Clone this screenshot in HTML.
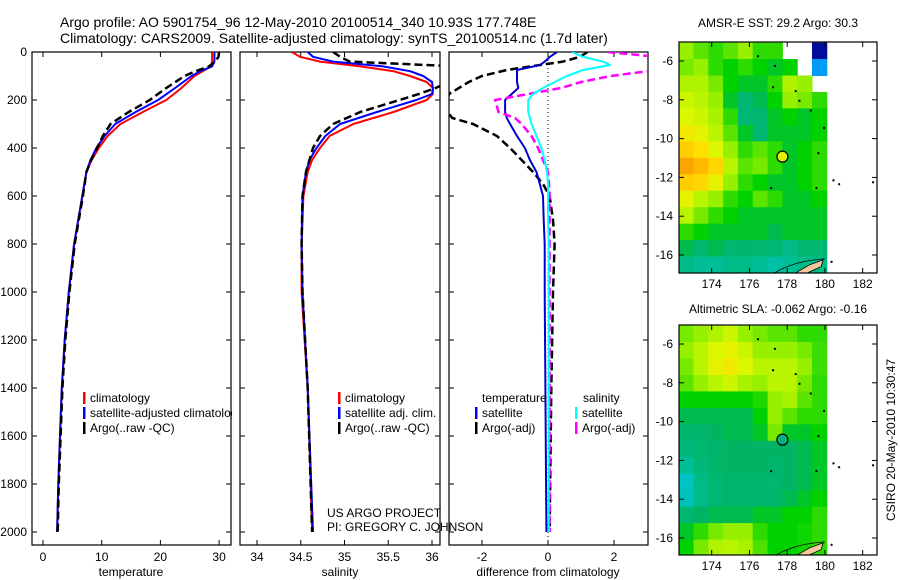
<!DOCTYPE html>
<html><head><meta charset="utf-8"><style>
html,body{margin:0;padding:0;background:#fff;}
svg{display:block;font-family:"Liberation Sans",sans-serif;}
text{fill:#000;}
</style></head><body>
<svg id="fig" width="900" height="580" viewBox="0 0 900 580">
<defs>
<clipPath id="c1"><rect x="32" y="52" width="199" height="493"/></clipPath>
<clipPath id="c2"><rect x="240" y="52" width="200" height="493"/></clipPath>
<clipPath id="c3"><rect x="449" y="52" width="199" height="493"/></clipPath>
<clipPath id="lg1"><rect x="32" y="380" width="200" height="60"/></clipPath>
<clipPath id="m1"><rect x="679" y="42" width="198" height="231"/></clipPath>
<clipPath id="m2"><rect x="679" y="325" width="198" height="230"/></clipPath>
</defs>
<text x="60" y="27" font-size="14">Argo profile: AO 5901754_96 12-May-2010 20100514_340 10.93S 177.748E</text>
<text x="60" y="43" font-size="14">Climatology: CARS2009. Satellite-adjusted climatology: synTS_20100514.nc (1.7d later)</text>
<g id="root"></g>
</svg>
<script>
// ---------- profile data ----------
var tDepth = [0,20,40,60,80,100,150,200,250,300,350,400,450,500,600,800,1000,1200,1400,1600,1800,2000];
var tClim  = [28.8,28.8,28.8,28.6,27.2,25.8,23.6,21.0,17.0,13.2,11.0,9.5,8.3,7.4,6.7,5.3,4.4,3.7,3.2,2.9,2.6,2.4];
var tSat   = [29.2,29.2,29.2,28.8,26.8,25.3,22.5,19.6,15.8,12.3,10.5,9.1,8.1,7.4,6.7,5.3,4.4,3.7,3.2,2.9,2.6,2.4];
var tArgo  = [30.0,29.9,29.3,28.3,26.0,24.1,21.0,18.2,14.6,11.5,10.2,9.2,8.2,7.4,6.8,5.4,4.5,3.8,3.3,3.0,2.7,2.5];

var sDepth = [0,20,40,60,80,100,125,150,175,200,250,300,350,400,450,500,600,800,1000,1400,2000];
var sClim  = [34.40,34.49,34.72,35.18,35.56,35.75,35.94,36.01,36.01,35.94,35.56,35.10,34.83,34.72,34.63,34.58,34.53,34.51,34.51,34.58,34.63];
var sSat   = [34.58,34.64,34.87,35.44,35.75,35.90,36.00,36.01,36.00,35.82,35.37,34.95,34.78,34.68,34.60,34.56,34.52,34.51,34.52,34.58,34.64];
var sArgo  = [34.87,34.95,35.06,36.30,36.30,36.30,36.20,36.04,35.85,35.63,35.18,34.87,34.72,34.64,34.60,34.56,34.52,34.51,34.52,34.58,34.63];

var dDepth   = [0,20,40,54,75,100,125,150,175,200,250,275,300,350,400,450,500,550,600,700,800,1000,1400,2000];
var dTsat    = [0.27,0.06,-0.1,-0.24,-0.94,-0.94,-0.94,-0.9,-1.1,-1.3,-1.3,-1.25,-1.15,-0.94,-0.7,-0.55,-0.35,-0.25,-0.15,-0.13,-0.1,-0.1,-0.08,-0.05];
var dTargo   = [1.2,0.97,0.45,-0.24,-1.25,-2.0,-2.4,-2.7,-3.0,-3.05,-3.05,-2.9,-2.27,-1.55,-1.15,-0.8,-0.45,-0.15,0.05,0.15,0.2,0.15,0.1,0.05];
var dSsat    = [0.73,1.06,1.67,1.88,1.06,0.57,0.21,-0.15,-0.45,-0.6,-0.6,-0.55,-0.5,-0.35,-0.2,-0.1,-0.03,0.0,0.0,0.0,0.02,0.02,0.02,0.02];
var dSargo   = [1.8,3.3,3.5,3.5,3.3,1.9,1.0,0.4,-0.6,-1.6,-1.5,-1.0,-0.8,-0.5,-0.3,-0.15,0.0,0.03,0.05,0.05,0.05,0.05,0.05,0.05];

var depthTicks = [0,200,400,600,800,1000,1200,1400,1600,1800,2000];
var tempTicks = [0,10,20,30];
var salTicks = ["34","34.5","35","35.5","36"];
var diffTicks = [-2,0,2];

// ---------- map data ----------
var lonTicks = [174,176,178,180,182];
var latTicks = [-6,-8,-10,-12,-14,-16];
var sstGrid = [
[0.62,0.58,0.55,0.58,0.62,0.55,0.55,null,null,0.03],
[0.60,0.62,0.55,0.52,0.55,0.52,0.50,0.52,null,0.25],
[0.65,0.65,0.60,0.52,0.50,0.50,0.55,0.65,0.62,null],
[0.68,0.66,0.62,0.50,0.45,0.48,0.52,0.62,0.60,0.55],
[0.70,0.68,0.64,0.55,0.45,0.45,0.50,0.52,0.50,0.52],
[0.75,0.72,0.66,0.58,0.50,0.45,0.50,0.50,0.50,0.52],
[0.82,0.78,0.70,0.62,0.55,0.58,0.55,0.50,0.52,0.55],
[0.90,0.86,0.80,0.66,0.58,0.60,0.55,0.50,0.52,0.55],
[0.82,0.80,0.72,0.62,0.55,0.52,0.50,0.50,0.52,0.55],
[0.72,0.66,0.62,0.55,0.52,0.58,0.55,0.50,0.50,0.52],
[0.66,0.60,0.55,0.52,0.50,0.50,0.50,0.50,0.50,0.50],
[0.55,0.52,0.50,0.50,0.50,0.50,0.48,0.50,0.50,0.50],
[0.48,0.45,0.48,0.45,0.46,0.45,0.45,0.42,0.45,0.45],
[0.42,0.40,0.40,0.42,0.42,0.40,0.38,0.40,0.42,0.42]];
var slaGrid = [
[0.60,0.62,0.65,0.68,0.62,0.60,0.58,0.58,0.55,0.55],
[0.62,0.66,0.70,0.72,0.68,0.62,0.62,0.62,0.60,0.56],
[0.60,0.66,0.72,0.75,0.70,0.66,0.66,0.66,0.62,0.56],
[0.58,0.62,0.66,0.68,0.64,0.62,0.66,0.66,0.60,0.55],
[0.52,0.52,0.52,0.52,0.52,0.54,0.62,0.64,0.58,0.55],
[0.48,0.48,0.48,0.48,0.48,0.52,0.62,0.58,0.55,0.55],
[0.46,0.46,0.47,0.48,0.48,0.50,0.60,0.50,0.50,0.52],
[0.44,0.45,0.46,0.47,0.47,0.47,0.47,0.47,0.48,0.50],
[0.40,0.44,0.46,0.47,0.47,0.47,0.46,0.47,0.48,0.50],
[0.35,0.42,0.45,0.46,0.46,0.46,0.45,0.47,0.48,0.50],
[0.36,0.42,0.45,0.46,0.46,0.46,0.46,0.48,0.50,0.52],
[0.45,0.47,0.48,0.48,0.48,0.50,0.50,0.52,0.52,0.55],
[0.50,0.55,0.60,0.62,0.62,0.55,0.52,0.52,0.53,0.55],
[0.52,0.60,0.65,0.66,0.64,0.57,0.52,0.52,0.53,0.55]];
var argoLon = 177.748, argoLat = -10.93;

var NS = "http://www.w3.org/2000/svg";
var root = document.getElementById("root");
function mk(tag, attrs, parent){ var e = document.createElementNS(NS, tag); for (var k in attrs) e.setAttribute(k, attrs[k]); (parent||root).appendChild(e); return e; }

function yD(z){ return 52 + z*0.24; }
var xs = [function(t){return 43 + t*5.87;}, function(s){return 257 + (s-34)*87.5;}, function(d){return 548 + d*33;}];
var panels = [[32,231],[240,440],[449,648]];

for (var p=0;p<3;p++){
  var fr = mk("rect",{x:panels[p][0],y:52,width:panels[p][1]-panels[p][0],height:493,fill:"none",stroke:"#000","stroke-width":1.2});
  
  
  depthTicks.forEach(function(z){
    mk("line",{x1:panels[p][0],x2:panels[p][0]+5,y1:yD(z),y2:yD(z),stroke:"#000"});
    mk("line",{x1:panels[p][1],x2:panels[p][1]-5,y1:yD(z),y2:yD(z),stroke:"#000"});
  });
}
depthTicks.forEach(function(z){
  var t = mk("text",{x:27,y:yD(z)+4,"font-size":12,"text-anchor":"end"}); t.textContent = z;
  
  
});
function xticks(vals, f){
  vals.forEach(function(v){
    var x = f(+v);
    mk("line",{x1:x,x2:x,y1:545,y2:540,stroke:"#000"});
    mk("line",{x1:x,x2:x,y1:52,y2:57,stroke:"#000"});
    var t = mk("text",{x:x,y:561,"font-size":12,"text-anchor":"middle"}); t.textContent = v;
    
    
  });
}
xticks(tempTicks, xs[0]); xticks(salTicks, xs[1]); xticks(diffTicks, xs[2]);
[["temperature",131],["salinity",340],["difference from climatology",548]].forEach(function(a){
  var t = mk("text",{x:a[1],y:576,"font-size":12,"text-anchor":"middle"}); t.textContent = a[0];
  
  
});
mk("line",{x1:548,x2:548,y1:52,y2:545,stroke:"#000","stroke-dasharray":"1,3"});

function line(depths, vals, f, color, dash, w, clip, name){
  var d = "";
  for (var i=0;i<depths.length;i++) d += (i?"L":"M") + f(vals[i]).toFixed(1) + "," + yD(depths[i]).toFixed(1);
  var a = {d:d,fill:"none",stroke:color,"stroke-width":w,"clip-path":"url(#"+clip+")","stroke-linejoin":"round"};
  if (dash) a["stroke-dasharray"] = dash;
  var e = mk("path", a);
  
  
}
line(tDepth,tClim,xs[0],"#ff0000",null,2,"c1","temp-climatology-line");
line(tDepth,tSat,xs[0],"#0000ff",null,2,"c1","temp-satellite-line");
line(tDepth,tArgo,xs[0],"#000",  "8,4",2.5,"c1","temp-argo-line");
line(sDepth,sClim,xs[1],"#ff0000",null,2,"c2","sal-climatology-line");
line(sDepth,sSat,xs[1],"#0000ff",null,2,"c2","sal-satellite-line");
line(sDepth,sArgo,xs[1],"#000","8,4",2.5,"c2","sal-argo-line");
line(dDepth,dTargo,xs[2],"#000","8,4",2.5,"c3","diff-temp-argo-line");
line(dDepth,dTsat,xs[2],"#0000cc",null,2,"c3","diff-temp-satellite-line");
line(dDepth,dSargo,xs[2],"#ff00ff","8,4",2.5,"c3","diff-sal-argo-line");
line(dDepth,dSsat,xs[2],"#00ffff",null,2,"c3","diff-sal-satellite-line");

function legend(x, y, color, label, clip){
  mk("rect",{x:x,y:y-10,width:2.5,height:12,fill:color});
  var a = {x:x+7,y:y,"font-size":12};
  if (clip) a["clip-path"] = "url(#"+clip+")";
  var t = mk("text",a); t.textContent = label;
  
  
}
legend(83,402,"#f00","climatology","lg1"); legend(83,417,"#00f","satellite-adjusted climatology","lg1"); legend(83,432,"#000","Argo(..raw -QC)","lg1");
legend(338,402,"#f00","climatology"); legend(338,417,"#00f","satellite adj. clim."); legend(338,432,"#000","Argo(..raw -QC)");
var th = mk("text",{x:482,y:402,"font-size":12}); th.textContent = "temperature";


var sh = mk("text",{x:583,y:402,"font-size":12}); sh.textContent = "salinity";


legend(475,417,"#00f","satellite"); legend(475,432,"#000","Argo(-adj)");
legend(575,417,"#0ff","satellite"); legend(575,432,"#f0f","Argo(-adj)");
var u1 = mk("text",{x:327,y:517,"font-size":12}); u1.textContent = "US ARGO PROJECT";


var u2 = mk("text",{x:327,y:531,"font-size":12}); u2.textContent = "PI: GREGORY C. JOHNSON";



// ---------- maps ----------
var stops = [[0,[0,0,128]],[0.15,[0,64,255]],[0.3,[0,200,240]],[0.4,[0,190,150]],[0.47,[0,180,100]],[0.52,[0,210,0]],[0.62,[150,240,0]],[0.7,[220,248,0]],[0.78,[255,224,0]],[0.88,[255,176,0]],[1,[224,112,0]]];
function cmap(v){
  for (var i=1;i<stops.length;i++){ if (v<=stops[i][0]){ var a=stops[i-1],b=stops[i],f=(v-a[0])/(b[0]-a[0]);
    return "rgb("+[0,1,2].map(function(k){return Math.round(a[1][k]+(b[1][k]-a[1][k])*f);}).join(",")+")"; } }
  return "rgb(224,112,0)";
}
function lonX(l){ return 711.7 + (l-174)*18.87; }
function latY(l, off){ return 61 + off + (-6 - l)*19.4; }
var lon0 = 172.25, lon1 = 180.1, lat0 = -5.05, lat1 = -16.93;
function drawMap(grid, off, clip, title, mname, dotFill){
  var g = mk("g",{"clip-path":"url(#"+clip+")"});
  
  
  var nr = grid.length, nc = grid[0].length, dl = (lon1-lon0)/nc, dt = (lat0-lat1)/nr;
  for (var r=0;r<nr;r++) for (var c=0;c<nc;c++){
    if (grid[r][c]===null) continue;
    var x0 = lonX(lon0 + c*dl), x1 = lonX(lon0 + (c+1)*dl), y0 = latY(lat0 - r*dt, off), y1 = latY(lat0 - (r+1)*dt, off);
    var cell = mk("rect",{x:x0.toFixed(1),y:y0.toFixed(1),width:(x1-x0+0.5).toFixed(1),height:(y1-y0+0.5).toFixed(1),fill:cmap(grid[r][c])},g);
    
    
  }
  var land = mk("path",{d:"M"+lonX(178.4)+","+latY(-16.95,off)+" L"+lonX(179.2)+","+latY(-16.5,off)+" L"+lonX(179.9)+","+latY(-16.25,off)+" L"+lonX(179.8)+","+latY(-16.6,off)+" L"+lonX(179.0)+","+latY(-16.95,off)+"Z",fill:"#f5c8a0",stroke:"#000","stroke-width":0.8},g);
  
  
  mk("path",{d:"M"+lonX(177.2)+","+latY(-17,off)+" Q"+lonX(178.3)+","+latY(-16.3,off)+" "+lonX(180)+","+latY(-16.2,off),fill:"none",stroke:"#000","stroke-width":0.8},g);
  [[176.4,-5.7],[177.3,-6.2],[177.2,-7.3],[178.4,-7.5],[178.6,-8],[179.2,-8.5],[179.9,-9.4],[179.6,-10.7],[177.1,-12.5],[179.5,-12.5],[180.4,-12.1],[180.7,-12.3],[182.5,-12.2],[180.3,-16.3]].forEach(function(p){
    mk("rect",{x:lonX(p[0]),y:latY(p[1],off),width:2,height:2,fill:"#000"});
  });
  var dot = mk("circle",{cx:lonX(argoLon),cy:latY(argoLat,off),r:5.5,fill:dotFill,stroke:"#000","stroke-width":1.2});
  
  
  var fr = mk("rect",{x:679,y:42+off,width:198,height:231-(off?1:0),fill:"none",stroke:"#000","stroke-width":1.2});
  
  
  var bottom = 42+off+231-(off?1:0);
  lonTicks.forEach(function(l){
    var x = lonX(l);
    mk("line",{x1:x,x2:x,y1:bottom,y2:bottom-5,stroke:"#000"});
    mk("line",{x1:x,x2:x,y1:42+off,y2:47+off,stroke:"#000"});
    var t = mk("text",{x:x,y:bottom+15,"font-size":12,"text-anchor":"middle"}); t.textContent = l;
    
    
  });
  latTicks.forEach(function(l){
    var y = latY(l,off);
    mk("line",{x1:679,x2:684,y1:y,y2:y,stroke:"#000"});
    mk("line",{x1:877,x2:872,y1:y,y2:y,stroke:"#000"});
    var t = mk("text",{x:673,y:y+4,"font-size":12,"text-anchor":"end"}); t.textContent = l;
    
    
  });
  var tt = mk("text",{x:778,y:off?313:27,"font-size":12,"text-anchor":"middle"}); tt.textContent = title;
  
  
}
drawMap(sstGrid, 0, "m1", "AMSR-E SST: 29.2 Argo: 30.3", "sst-map", "#e0f000");
drawMap(slaGrid, 283, "m2", "Altimetric SLA: -0.062 Argo: -0.16", "sla-map", "#00b080");
var cs = mk("text",{x:0,y:0,"font-size":12,"text-anchor":"middle",transform:"translate(895,440) rotate(-90)"}); cs.textContent = "CSIRO 20-May-2010 10:30:47";


</script>
</body></html>
